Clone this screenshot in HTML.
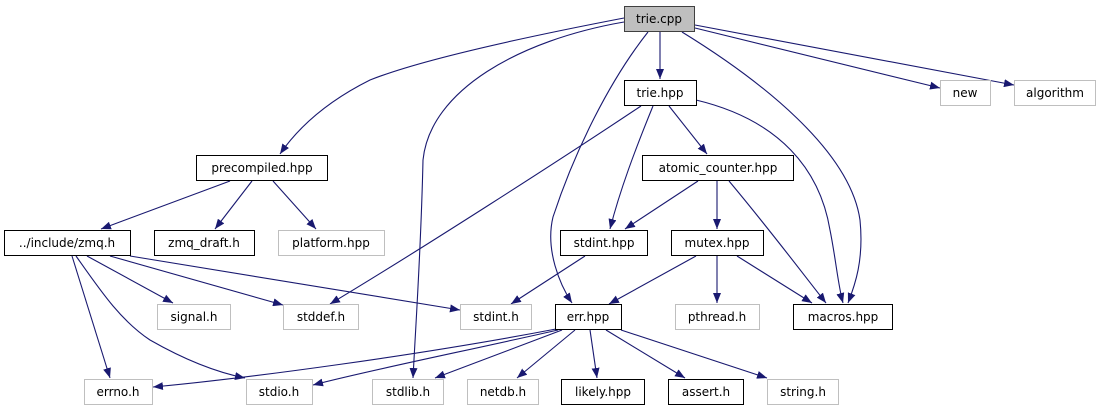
<!DOCTYPE html>
<html><head><meta charset="utf-8"><style>
html,body{margin:0;padding:0;background:#fff;}
svg text{font-family:"DejaVu Sans","Liberation Sans",sans-serif;font-size:12px;text-anchor:middle;fill:#000;}
</style></head><body>
<svg width="1105" height="411" viewBox="0 0 1105 411" xmlns="http://www.w3.org/2000/svg">
<defs><marker id="a" markerWidth="10" markerHeight="8" refX="10" refY="4" orient="auto" markerUnits="userSpaceOnUse"><path d="M0,0 L10,4 L0,8 z" fill="#191970"/></marker></defs>
<g fill="none" stroke="#191970" stroke-width="1.1" marker-end="url(#a)">
<path d="M624,18 C520,38 420,60 370,80 C330,100 300,125 280,154"/>
<path d="M624,22 C520,40 430,90 423,160 C421,250 416,320 413,378"/>
<path d="M648,32 C610,80 575,150 553,217 C545,250 560,285 572,303"/>
<path d="M660,32 L660,79"/>
<path d="M682,32 C760,80 850,150 860,220 C864,260 855,285 848,303"/>
<path d="M695,28 L940,88"/>
<path d="M695,25 L1014,85"/>
<path d="M641,106 C560,160 420,250 330,304"/>
<path d="M653,106 C635,150 620,190 610,229"/>
<path d="M669,106 L707,154"/>
<path d="M696,100 C780,120 820,170 830,230 C836,260 838,285 843,303"/>
<path d="M230,181 L101,229"/>
<path d="M252,181 L215,229"/>
<path d="M273,181 L316,229"/>
<path d="M87,256 L173,303"/>
<path d="M110,256 L283,305"/>
<path d="M130,256 L460,310"/>
<path d="M72,256 L110,378"/>
<path d="M76,256 C100,290 120,320 150,340 C185,360 215,372 245,378"/>
<path d="M698,181 L625,229"/>
<path d="M717,181 L717,229"/>
<path d="M729,181 C770,230 800,270 826,303"/>
<path d="M585,256 L511,304"/>
<path d="M696,256 L609,304"/>
<path d="M717,256 L717,303"/>
<path d="M737,256 L812,303"/>
<path d="M556,329 C420,355 250,378 153,387"/>
<path d="M558,330 C470,350 370,370 313,385"/>
<path d="M562,330 L435,378"/>
<path d="M575,330 L517,378"/>
<path d="M590,330 L597,378"/>
<path d="M606,330 L685,378"/>
<path d="M621,330 L767,378"/>
</g>
<g stroke-width="1">
<rect x="624.5" y="6.5" width="70" height="25" fill="#bfbfbf" stroke="#404040"/>
<rect x="624.5" y="80.5" width="72" height="25" fill="#fff" stroke="#000"/>
<rect x="940.5" y="80.5" width="50" height="25" fill="#fff" stroke="#bfbfbf"/>
<rect x="1014.5" y="80.5" width="81" height="25" fill="#fff" stroke="#bfbfbf"/>
<rect x="196.5" y="155.5" width="131" height="25" fill="#fff" stroke="#000"/>
<rect x="642.5" y="155.5" width="151" height="25" fill="#fff" stroke="#000"/>
<rect x="4.5" y="230.5" width="126" height="25" fill="#fff" stroke="#000"/>
<rect x="154.5" y="230.5" width="100" height="25" fill="#fff" stroke="#000"/>
<rect x="278.5" y="230.5" width="106" height="25" fill="#fff" stroke="#bfbfbf"/>
<rect x="560.5" y="230.5" width="87" height="25" fill="#fff" stroke="#000"/>
<rect x="671.5" y="230.5" width="92" height="25" fill="#fff" stroke="#000"/>
<rect x="157.5" y="304.5" width="73" height="25" fill="#fff" stroke="#bfbfbf"/>
<rect x="283.5" y="304.5" width="75" height="25" fill="#fff" stroke="#bfbfbf"/>
<rect x="460.5" y="304.5" width="71" height="25" fill="#fff" stroke="#bfbfbf"/>
<rect x="555.5" y="304.5" width="66" height="25" fill="#fff" stroke="#000"/>
<rect x="675.5" y="304.5" width="84" height="25" fill="#fff" stroke="#bfbfbf"/>
<rect x="793.5" y="304.5" width="99" height="25" fill="#fff" stroke="#000"/>
<rect x="84.5" y="379.5" width="68" height="25" fill="#fff" stroke="#bfbfbf"/>
<rect x="246.5" y="379.5" width="66" height="25" fill="#fff" stroke="#bfbfbf"/>
<rect x="372.5" y="379.5" width="71" height="25" fill="#fff" stroke="#bfbfbf"/>
<rect x="467.5" y="379.5" width="71" height="25" fill="#fff" stroke="#bfbfbf"/>
<rect x="561.5" y="379.5" width="83" height="25" fill="#fff" stroke="#000"/>
<rect x="668.5" y="379.5" width="75" height="25" fill="#fff" stroke="#000"/>
<rect x="767.5" y="379.5" width="71" height="25" fill="#fff" stroke="#bfbfbf"/>
</g>
<text x="659" y="23">trie.cpp</text>
<text x="660" y="97">trie.hpp</text>
<text x="965" y="97">new</text>
<text x="1055" y="97">algorithm</text>
<text x="262" y="172">precompiled.hpp</text>
<text x="718" y="172">atomic_counter.hpp</text>
<text x="67" y="247">../include/zmq.h</text>
<text x="204" y="247">zmq_draft.h</text>
<text x="331" y="247">platform.hpp</text>
<text x="604" y="247">stdint.hpp</text>
<text x="717" y="247">mutex.hpp</text>
<text x="194" y="321">signal.h</text>
<text x="321" y="321">stddef.h</text>
<text x="496" y="321">stdint.h</text>
<text x="588" y="321">err.hpp</text>
<text x="717" y="321">pthread.h</text>
<text x="843" y="321">macros.hpp</text>
<text x="118" y="396">errno.h</text>
<text x="279" y="396">stdio.h</text>
<text x="408" y="396">stdlib.h</text>
<text x="503" y="396">netdb.h</text>
<text x="603" y="396">likely.hpp</text>
<text x="706" y="396">assert.h</text>
<text x="803" y="396">string.h</text>
</svg>
</body></html>
